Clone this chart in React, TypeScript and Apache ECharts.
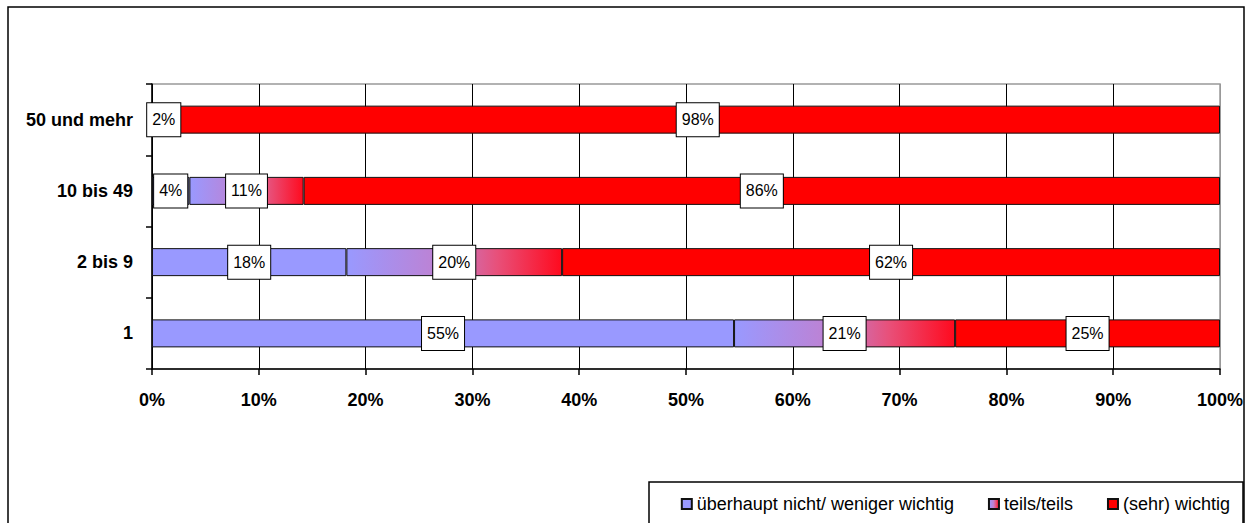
import React, { useEffect, useRef } from "react";
import * as echarts from "echarts";

const categories = ["1", "2 bis 9", "10 bis 49", "50 und mehr"];
const seriesNames = ["überhaupt nicht/ weniger wichtig", "teils/teils", "(sehr) wichtig"];
const lowValues: (number | null)[] = [54.5, 18.2, 3.5, null];
const midValues: (number | null)[] = [20.7, 20.2, 10.7, 2.2];
const highValues: (number | null)[] = [24.8, 61.6, 85.8, 97.8];
const xTicks = [0, 10, 20, 30, 40, 50, 60, 70, 80, 90, 100];

const FONT = 'Arial, "Liberation Sans", sans-serif';

export default function App() {
  const ref = useRef<HTMLDivElement>(null);
  useEffect(() => {
    if (!ref.current) return;
    const chart = echarts.init(ref.current, undefined, { renderer: "svg" });
    const label = {
      show: true,
      position: "inside",
      formatter: (p: any) => Math.round(p.value) + "%",
      fontFamily: FONT,
      fontSize: 16,
      color: "#000",
      backgroundColor: "#fff",
      borderColor: "#000",
      borderWidth: 1,
      padding: [9, 5, 8, 5],
    };
    const grad = new echarts.graphic.LinearGradient(0, 0, 1, 0, [
      { offset: 0, color: "#9999FF" },
      { offset: 0.45, color: "#C080D0" },
      { offset: 0.7, color: "#E8507A" },
      { offset: 1, color: "#FF0A1E" },
    ]);
    const mk = (name: string, data: (number | null)[], color: any) => ({
      name,
      type: "bar",
      stack: "total",
      barWidth: 28,
      data,
      itemStyle: { color, borderColor: "#111", borderWidth: 1 },
      label,
    });
    const splitColors = xTicks.map((_, i) => (i === xTicks.length - 1 ? "#999" : "#000"));
    chart.setOption({
      animation: false,
      backgroundColor: "#fff",
      textStyle: { fontFamily: FONT },
      grid: {
        left: 152,
        top: 84,
        right: 33,
        bottom: 154,
        show: true,
        borderColor: "#999",
        borderWidth: 1.5,
        containLabel: false,
        outerBoundsMode: "none",
      },
      xAxis: {
        type: "value",
        min: 0,
        max: 100,
        interval: 10,
        axisLine: { show: true, lineStyle: { color: "#000", width: 1.5 } },
        axisTick: { show: true, length: 6, lineStyle: { color: "#000", width: 1.5 } },
        splitLine: { show: true, lineStyle: { color: splitColors, width: 1 } },
        axisLabel: {
          formatter: "{value}%",
          fontFamily: FONT,
          fontSize: 18,
          fontWeight: "bold",
          color: "#000",
          margin: 22,
        },
      },
      yAxis: {
        type: "category",
        data: categories,
        axisLine: { show: true, lineStyle: { color: "#000", width: 1.5 } },
        axisTick: { show: true, length: 6, alignWithLabel: false, lineStyle: { color: "#000", width: 1.5 } },
        splitLine: { show: false },
        axisLabel: {
          fontFamily: FONT,
          fontSize: 18,
          fontWeight: "bold",
          color: "#000",
          margin: 19,
        },
      },
      legend: {
        data: seriesNames,
        right: 23,
        top: 495,
        padding: 0,
        itemWidth: 10,
        itemHeight: 10,
        itemGap: 34,
        icon: "rect",
        selectedMode: false,
        textStyle: { fontFamily: FONT, fontSize: 18, color: "#000" },
      },
      graphic: [
        {
          type: "rect",
          shape: { x: 8, y: 7, width: 1236, height: 600 },
          style: { fill: "none", stroke: "#000", lineWidth: 1.5 },
          silent: true,
        },
        {
          type: "rect",
          shape: { x: 649, y: 482, width: 594, height: 100 },
          style: { fill: "none", stroke: "#000", lineWidth: 1.5 },
          silent: true,
        },
      ],
      series: [
        mk(seriesNames[0], lowValues, "#9999FF"),
        mk(seriesNames[1], midValues, grad),
        mk(seriesNames[2], highValues, "#FF0000"),
      ],
    });
    return () => chart.dispose();
  }, []);
  return (
    <div
      ref={ref}
      style={{ position: "absolute", left: 0, top: 0, width: 1253, height: 523 }}
    />
  );
}
